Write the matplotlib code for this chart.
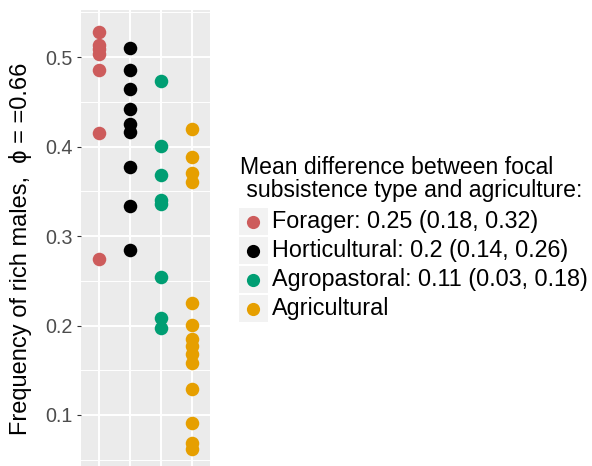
import matplotlib
matplotlib.use("Agg")
import matplotlib.pyplot as plt
from matplotlib.patches import Rectangle
from matplotlib.lines import Line2D

plt.rcParams['font.family'] = ['Liberation Sans', 'DejaVu Sans']

groups = ['Forager', 'Horticultural', 'Agropastoral', 'Agricultural']
colors = ['#CD5C5C', '#000000', '#009E73', '#E69F00']
values = {
    'Forager': [0.528, 0.514, 0.509, 0.503, 0.4855, 0.4147, 0.274],
    'Horticultural': [0.510, 0.4855, 0.464, 0.442, 0.425, 0.416, 0.377, 0.334, 0.2847],
    'Agropastoral': [0.473, 0.4006, 0.368, 0.340, 0.3357, 0.254, 0.208, 0.1975],
    'Agricultural': [0.420, 0.3886, 0.370, 0.360, 0.2255, 0.2006, 0.185, 0.177,
                     0.168, 0.158, 0.129, 0.0907, 0.069, 0.0617],
}
legend_labels = ['Forager: 0.25 (0.18, 0.32)',
                 'Horticultural: 0.2 (0.14, 0.26)',
                 'Agropastoral: 0.11 (0.03, 0.18)',
                 'Agricultural']
legend_title = 'Mean difference between focal\n subsistence type and agriculture:'
y_ticks = [0.1, 0.2, 0.3, 0.4, 0.5]

W, H = 592, 466
fig = plt.figure(figsize=(W / 100, H / 100), dpi=100)
ax = fig.add_axes([81 / W, (H - 473.6) / H, 129 / W, (473.6 - 10) / H])
ax.set_facecolor('#EBEBEB')

for i, g in enumerate(groups):
    ax.scatter([i] * len(values[g]), values[g], s=95, color=colors[i],
               linewidths=0, zorder=3)

ax.set_xlim(-0.6, 3.6)
ax.set_ylim(0.0345, 0.5526)
ax.set_xticks(range(4))
ax.set_xticklabels([''] * 4)
ax.set_yticks(y_ticks)
ax.set_yticklabels([str(t) for t in y_ticks])
ax.set_yticks([0.05, 0.15, 0.25, 0.35, 0.45, 0.55], minor=True)
ax.grid(which='major', color='white', linewidth=1.4, zorder=0)
ax.grid(which='minor', axis='y', color='white', linewidth=0.7, zorder=0)
ax.set_axisbelow(True)
for s in ax.spines.values():
    s.set_visible(False)
ax.tick_params(axis='both', which='major', length=3, width=0.8, color='#333333',
               labelcolor='#4D4D4D', labelsize=14.2, pad=3)
ax.tick_params(axis='y', which='minor', length=0)
ax.set_ylabel('Frequency of rich males,  \u03d5 = =0.66', fontsize=17)
ax.yaxis.set_label_coords(32 / W, (H - 249) / H, transform=fig.transFigure)

# legend drawn by hand, ggplot-like
fig.text(240 / W, (H - 179) / H, legend_title, fontsize=16.6, va='center',
         ha='left', linespacing=1.05)
row_y = [221.5, 250.5, 279.5, 308.5]
for i, lab in enumerate(legend_labels):
    yc = row_y[i]
    fig.add_artist(Rectangle((238.5 / W, (H - yc - 13.7) / H), 29.5 / W, 27.4 / H,
                             transform=fig.transFigure, facecolor='#F2F2F2',
                             edgecolor='none'))
    fig.add_artist(Line2D([253.3 / W], [(H - yc) / H], marker='o', markersize=9.5,
                          color=colors[i], markeredgewidth=0,
                          transform=fig.transFigure))
    fig.text(271.7 / W, (H - yc) / H, lab, fontsize=16.8, va='center', ha='left')

fig.savefig('out.png', dpi=100)
